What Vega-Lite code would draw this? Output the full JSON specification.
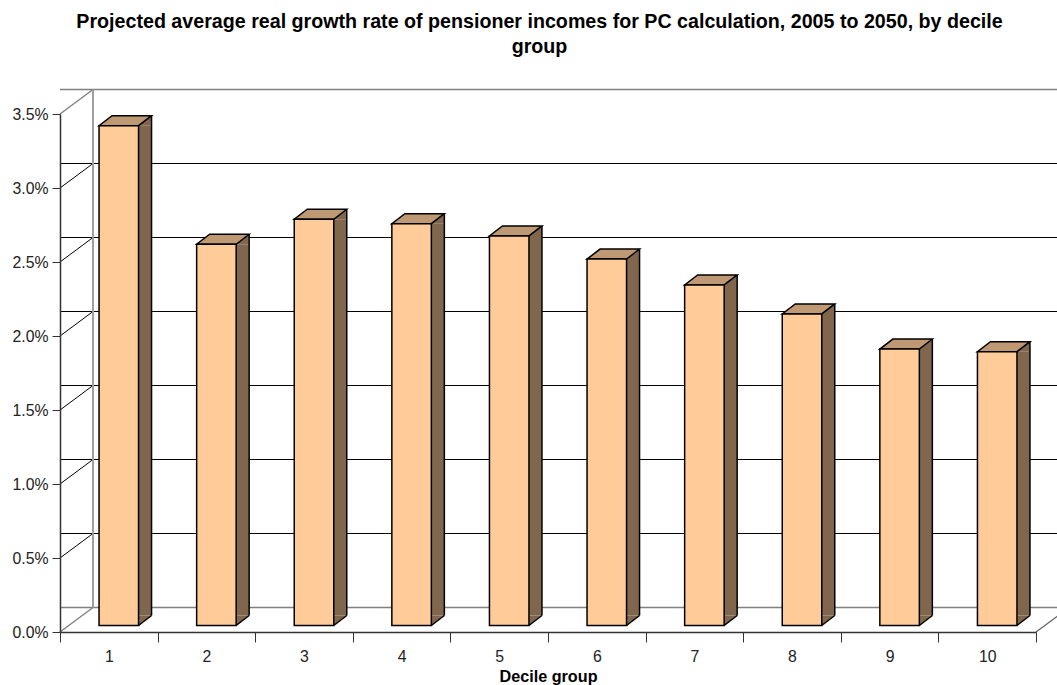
{
  "$schema": "https://vega.github.io/schema/vega-lite/v6.json",
  "width": 976,
  "height": 518,
  "autosize": "none",
  "padding": {"left": 60, "top": 114, "right": 21, "bottom": 53},
  "background": "white",
  "title": {
    "text": ["Projected average real growth rate of pensioner incomes for PC calculation, 2005 to 2050, by decile", "group"],
    "font": "Liberation Sans", "fontSize": 19.66, "fontWeight": "bold", "color": "#000000",
    "anchor": "middle", "offset": 30, "dx": -8.5, "lineHeight": 24.7
  },
  "config": {"view": {"stroke": null}},
  "datasets": {
    "deciles": [
      {"decile": 1, "value": 0.03377},
      {"decile": 2, "value": 0.02576},
      {"decile": 3, "value": 0.02745},
      {"decile": 4, "value": 0.02715},
      {"decile": 5, "value": 0.02632},
      {"decile": 6, "value": 0.02476},
      {"decile": 7, "value": 0.02301},
      {"decile": 8, "value": 0.02105},
      {"decile": 9, "value": 0.01868},
      {"decile": 10, "value": 0.0185}
    ],
    "inner": [{"value": 0.005}, {"value": 0.01}, {"value": 0.015}, {"value": 0.02}, {"value": 0.025}, {"value": 0.03}],
    "edges": [{"value": 0}, {"value": 0.035}],
    "floor": [{"value": 0}]
  },
  "layer": [
    {
      "description": "back wall gridlines",
      "data": {"name": "inner"},
      "mark": {"type": "rule", "stroke": "#000000", "strokeWidth": 1, "xOffset": 33, "x2Offset": 33, "yOffset": -24.5},
      "encoding": {"y": {"field": "value", "type": "quantitative", "scale": {"domain": [0, 0.035], "nice": false}}}
    },
    {
      "description": "top and floor edges of the back wall",
      "data": {"name": "edges"},
      "mark": {"type": "rule", "stroke": "#808080", "strokeWidth": 1.6, "xOffset": 33, "x2Offset": 33, "yOffset": -24.5},
      "encoding": {"y": {"field": "value", "type": "quantitative"}}
    },
    {
      "description": "side wall gridlines",
      "data": {"name": "inner"},
      "mark": {"type": "point", "shape": "M0,0L33,-24.5", "size": 4, "filled": false, "stroke": "#000000", "strokeWidth": 1, "opacity": 1, "xOffset": -48.8},
      "encoding": {
        "x": {"datum": 1, "type": "ordinal"},
        "y": {"field": "value", "type": "quantitative"}
      }
    },
    {
      "description": "side wall top and floor edges",
      "data": {"name": "edges"},
      "mark": {"type": "point", "shape": "M0,0L33,-24.5", "size": 4, "filled": false, "stroke": "#808080", "strokeWidth": 1.4, "opacity": 1, "xOffset": -48.8},
      "encoding": {
        "x": {"datum": 1, "type": "ordinal"},
        "y": {"field": "value", "type": "quantitative"}
      }
    },
    {
      "description": "right floor edge",
      "data": {"name": "floor"},
      "mark": {"type": "point", "shape": "M0,0L33,-24.5", "size": 4, "filled": false, "stroke": "#606060", "strokeWidth": 1.2, "opacity": 1, "xOffset": 48.8},
      "encoding": {
        "x": {"datum": 10, "type": "ordinal"},
        "y": {"field": "value", "type": "quantitative"}
      }
    },
    {
      "description": "vertical corner of the walls",
      "data": {"name": "edges"},
      "transform": [{"aggregate": [{"op": "max", "field": "value", "as": "top"}, {"op": "min", "field": "value", "as": "base"}]}],
      "mark": {"type": "rule", "stroke": "#A0A0A0", "strokeWidth": 2, "xOffset": -15.8, "yOffset": -24.5, "y2Offset": -24.5},
      "encoding": {
        "x": {"datum": 1, "type": "ordinal"},
        "y": {"field": "top", "type": "quantitative"},
        "y2": {"field": "base"}
      }
    },
    {
      "description": "shaded side face, straight part",
      "data": {"name": "deciles"},
      "mark": {"type": "bar", "width": 13, "fill": "#7F664C", "xOffset": 36.25, "yOffset": -6.5, "y2Offset": -16.5},
      "encoding": {
        "x": {"field": "decile", "type": "ordinal"},
        "y": {"field": "value", "type": "quantitative", "stack": null},
        "y2": {"datum": 0}
      }
    },
    {
      "description": "shaded side face, upper wedge",
      "data": {"name": "deciles"},
      "mark": {"type": "point", "shape": "M0,0L13,-10L13,0Z", "size": 4, "filled": true, "fill": "#7F664C", "opacity": 1, "xOffset": 29.75, "yOffset": -6.5},
      "encoding": {
        "x": {"field": "decile", "type": "ordinal"},
        "y": {"field": "value", "type": "quantitative"}
      }
    },
    {
      "description": "shaded side face, lower wedge",
      "data": {"name": "deciles"},
      "mark": {"type": "point", "shape": "M0,0L13,-10L0,-10Z", "size": 4, "filled": true, "fill": "#7F664C", "opacity": 1, "xOffset": 29.75, "yOffset": -6.5},
      "encoding": {
        "x": {"field": "decile", "type": "ordinal"},
        "y": {"datum": 0, "type": "quantitative"}
      }
    },
    {
      "description": "lower edge of the side face",
      "data": {"name": "deciles"},
      "mark": {"type": "point", "shape": "M0,0L13,-10", "size": 4, "filled": false, "stroke": "#000000", "strokeWidth": 1.5, "opacity": 1, "xOffset": 29.75, "yOffset": -6.5},
      "encoding": {
        "x": {"field": "decile", "type": "ordinal"},
        "y": {"datum": 0, "type": "quantitative"}
      }
    },
    {
      "description": "rear vertical edge of the side face",
      "data": {"name": "deciles"},
      "mark": {"type": "rule", "stroke": "#000000", "strokeWidth": 1.5, "xOffset": 42.75, "yOffset": -16.5, "y2Offset": -16.5},
      "encoding": {
        "x": {"field": "decile", "type": "ordinal"},
        "y": {"field": "value", "type": "quantitative"},
        "y2": {"datum": 0}
      }
    },
    {
      "description": "top face of each column",
      "data": {"name": "deciles"},
      "mark": {"type": "point", "shape": "M0,0L39.5,0L52.5,-10L13,-10Z", "size": 4, "filled": true, "fill": "#BF9973", "stroke": "#000000", "strokeWidth": 1.5, "strokeJoin": "miter", "opacity": 1, "xOffset": -9.75, "yOffset": -6.5},
      "encoding": {
        "x": {"field": "decile", "type": "ordinal"},
        "y": {"field": "value", "type": "quantitative"}
      }
    },
    {
      "description": "front face of each column, carrying the axes",
      "data": {"name": "deciles"},
      "mark": {"type": "bar", "width": 39.5, "fill": "#FFCC99", "stroke": "#000000", "strokeWidth": 1.5, "xOffset": 10, "yOffset": -6.5, "y2Offset": -6.5},
      "encoding": {
        "x": {
          "field": "decile", "type": "ordinal",
          "scale": {"paddingInner": 0, "paddingOuter": 0},
          "axis": {
            "title": "Decile group", "titleFont": "Liberation Sans", "titleFontSize": 16.2, "titleFontWeight": "bold", "titleColor": "#000000", "titlePadding": 5,
            "labelFont": "Liberation Sans", "labelFontSize": 15.8, "labelColor": "#222222", "labelAngle": 0, "labelAlign": "center", "labelBaseline": "top", "labelPadding": 7,
            "domainColor": "#333333", "domainWidth": 1.5, "tickColor": "#333333", "tickSize": 10, "tickWidth": 1, "tickBand": "extent", "zindex": 1
          }
        },
        "y": {
          "field": "value", "type": "quantitative", "stack": null,
          "axis": {
            "title": null, "format": ".1%", "values": [0, 0.005, 0.01, 0.015, 0.02, 0.025, 0.03, 0.035],
            "labelFont": "Liberation Sans", "labelFontSize": 15.8, "labelColor": "#222222", "labelPadding": 4,
            "domainColor": "#333333", "domainWidth": 1.5, "tickColor": "#333333", "tickSize": 8, "tickWidth": 1, "grid": false, "zindex": 1
          }
        },
        "y2": {"datum": 0}
      }
    }
  ]
}
